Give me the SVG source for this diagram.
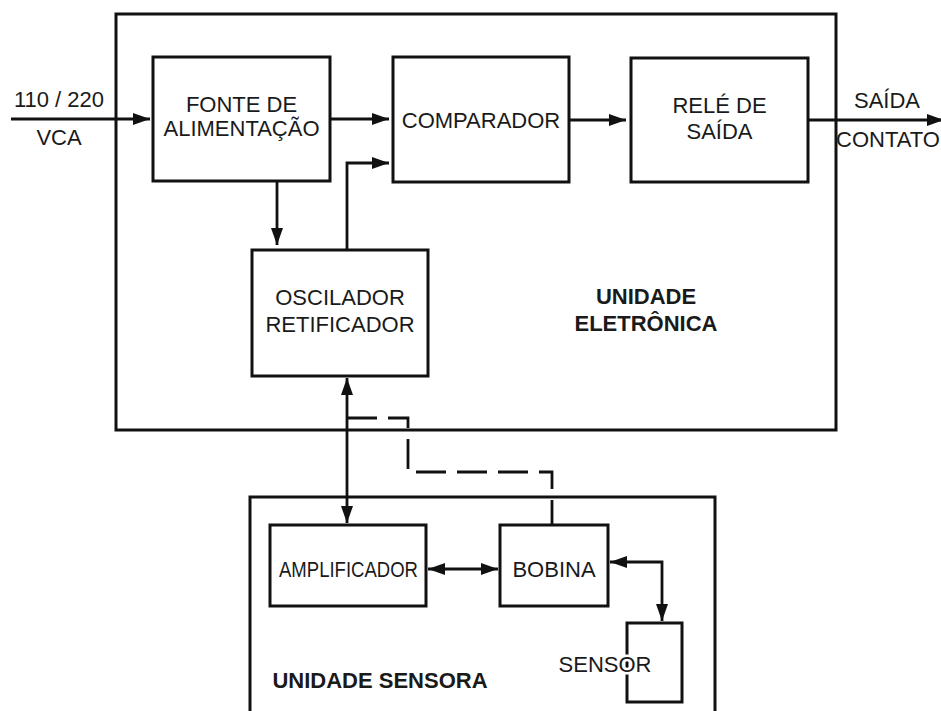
<svg xmlns="http://www.w3.org/2000/svg" width="941" height="711" viewBox="0 0 941 711">
<defs>
<style>
.box{fill:none;stroke:#111;stroke-width:3}
.unit{fill:none;stroke:#111;stroke-width:3}
.ln{fill:none;stroke:#111;stroke-width:2.8}
.dash{fill:none;stroke:#111;stroke-width:2.8;stroke-dasharray:30 11}
text{font-family:"Liberation Sans",Arial,sans-serif;font-size:22px;fill:#1a1a1a;text-anchor:middle}
.b{font-weight:bold}
</style>
<marker id="ah" markerUnits="userSpaceOnUse" markerWidth="17" markerHeight="12" refX="17" refY="6" orient="auto-start-reverse" viewBox="0 0 17 12">
<path d="M0,0 L17,6 L0,12 Z" fill="#111"/>
</marker>
</defs>
<rect width="941" height="711" fill="#fff"/>

<g id="unidade-eletronica">
<rect class="unit" x="116" y="14" width="720" height="416"/>
<text class="b" x="646" y="304">UNIDADE</text>
<text class="b" x="646" y="331">ELETRÔNICA</text>
</g>

<g id="unidade-sensora">
<path class="unit" d="M250,715 V497 H715 V715"/>
<text class="b" x="380" y="688">UNIDADE SENSORA</text>
</g>

<g id="entrada">
<text x="59" y="107">110 / 220</text>
<text x="59" y="145">VCA</text>
</g>

<g id="saida">
<text x="887" y="108">SAÍDA</text>
<text x="888" y="147" font-size="19.5">CONTATO</text>
</g>

<g id="fonte">
<rect class="box" x="153" y="57" width="177" height="124"/>
<text x="241.5" y="112">FONTE DE</text>
<text x="241.5" y="136">ALIMENTAÇÃO</text>
</g>

<g id="comparador">
<rect class="box" x="393" y="57" width="176" height="125"/>
<text x="481" y="128">COMPARADOR</text>
</g>

<g id="rele">
<rect class="box" x="631" y="58" width="177" height="124"/>
<text x="719.5" y="113">RELÉ DE</text>
<text x="719.5" y="139">SAÍDA</text>
</g>

<g id="oscilador">
<rect class="box" x="252" y="250" width="176" height="126"/>
<text x="340" y="305">OSCILADOR</text>
<text x="340" y="332">RETIFICADOR</text>
</g>

<g id="amplificador">
<rect class="box" x="270" y="525" width="156" height="81"/>
<text x="348.5" y="577" textLength="139" lengthAdjust="spacingAndGlyphs">AMPLIFICADOR</text>
</g>

<g id="bobina">
<rect class="box" x="500" y="525" width="108" height="81"/>
<text x="554" y="577">BOBINA</text>
</g>

<g id="sensor">
<rect class="box" x="627" y="623" width="55" height="79"/>
<text x="605" y="672" stroke="#fff" stroke-width="5" paint-order="stroke">SENSOR</text>
</g>

<g id="connectors">
<line class="ln" x1="11" y1="119" x2="150" y2="119" marker-end="url(#ah)"/>
<line class="ln" x1="330" y1="119" x2="389" y2="119" marker-end="url(#ah)"/>
<line class="ln" x1="569" y1="120" x2="626" y2="120" marker-end="url(#ah)"/>
<line class="ln" x1="808" y1="120" x2="944" y2="120" marker-end="url(#ah)"/>
<line class="ln" x1="277" y1="181" x2="277" y2="245" marker-end="url(#ah)"/>
<path class="ln" d="M347,250 V163 H389" marker-end="url(#ah)"/>
<line class="ln" x1="347" y1="378" x2="347" y2="523" marker-start="url(#ah)" marker-end="url(#ah)"/>
<line class="ln" x1="428" y1="569" x2="498" y2="569" marker-start="url(#ah)" marker-end="url(#ah)"/>
<path class="ln" d="M610,562 H662 V621" marker-start="url(#ah)" marker-end="url(#ah)"/>
<path class="dash" d="M347,418 H408 V472 H552 V525"/>
</g>
</svg>
